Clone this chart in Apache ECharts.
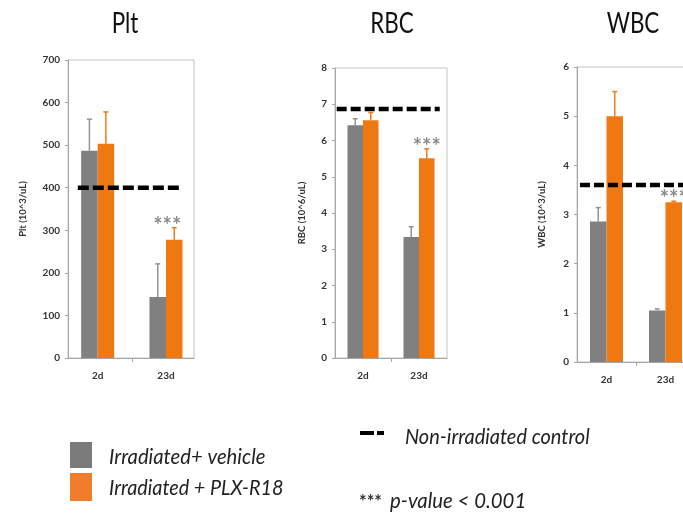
<!DOCTYPE html>
<html><head><meta charset="utf-8">
<script src="https://cdn.jsdelivr.net/npm/echarts@6/dist/echarts.min.js"></script>
<style>html,body{margin:0;padding:0;background:#fff}#c{width:683px;height:517px}</style>
</head><body><div id="c"></div>
<script>
// ---- data ----
const categories = ['2d', '23d'];
const panelTitles = ['Plt', 'RBC', 'WBC'];
const axisNames = ['Plt (10^3/uL)', 'RBC (10^6/uL)', 'WBC (10^3/uL)'];
const seriesNames = ['Irradiated+ vehicle', 'Irradiated + PLX-R18'];
const vehicleMeans = [[487, 143], [6.42, 3.34], [2.86, 1.05]];
const vehicleErr   = [[74, 78], [0.18, 0.28], [0.28, 0.03]];
const plxMeans     = [[503, 278], [6.56, 5.51], [5.0, 3.25]];
const plxErr       = [[75, 28], [0.21, 0.26], [0.5, 0.02]];
const controlValues = [400, 6.87, 3.6];
const significant = [[false, true], [false, true], [false, true]];
const yMax = [700, 8, 6];
const yStep = [100, 1, 1];
const legendControl = 'Non-irradiated control';
const legendStars = '***';
const legendP = 'p-value < 0.001';

// ---- layout / styles ----
const layout = [
  {left: 68,  top: 60, width: 126, height: 298, xMin: -0.434, xMax: 1.41, barW: 16.5, ctrl: [-0.29, 1.245], dash: [11, 4], titleX: 125, nameGap: 40, starDx: -7},
  {left: 335, top: 68, width: 112, height: 290, xMin: -0.5, xMax: 1.5, barW: 15.5, ctrl: [-0.47, 1.37], dash: [10, 4], titleX: 392, nameGap: 28, starDx: 0},
  {left: 577, top: 67, width: 118, height: 295, xMin: -0.5, xMax: 1.5, barW: 16.5, ctrl: [-0.45, 1.5], dash: [10, 4], titleX: 633, nameGap: 30, starDx: 0}
];
const GRAY = '#808080', ORANGE = '#f07810';
const AXIS = '#a6a6a6';
const FONT = 'Lato';

const grids = [], xAxes = [], yAxes = [], series = [], graphics = [];

layout.forEach((L, i) => {
  grids.push({left: L.left, top: L.top, width: L.width, height: L.height,
    show: true, borderColor: '#c4c4c4', borderWidth: 1, outerBoundsMode: 'none'});
  xAxes.push({gridIndex: i, type: 'value', min: L.xMin, max: L.xMax,
    axisLine: {show: true, onZero: false, lineStyle: {color: AXIS}},
    axisTick: {show: true, customValues: [0.5], length: 4, lineStyle: {color: AXIS}},
    axisLabel: {customValues: [0, 1], formatter: v => categories[Math.round(v)],
      margin: 13, fontFamily: FONT, fontWeight: 'bold', fontSize: 10, color: '#333'},
    splitLine: {show: false}});
  yAxes.push({gridIndex: i, type: 'value', min: 0, max: yMax[i], interval: yStep[i],
    name: axisNames[i], nameLocation: 'middle', nameGap: L.nameGap,
    nameTextStyle: {fontFamily: FONT, fontWeight: 'bold', fontSize: 9.5, color: '#333'},
    axisLine: {show: true, onZero: false, lineStyle: {color: AXIS}},
    axisTick: {show: true, length: 3, lineStyle: {color: AXIS}},
    axisLabel: {margin: 8, fontFamily: FONT, fontWeight: 'bold', fontSize: 10, color: '#333'},
    splitLine: {show: false}});

  const groups = [
    {name: seriesNames[0], means: vehicleMeans[i], errs: vehicleErr[i], color: GRAY, errColor: '#939393', sign: -1},
    {name: seriesNames[1], means: plxMeans[i], errs: plxErr[i], color: ORANGE, errColor: '#f07d1a', sign: 1}
  ];
  groups.forEach(g => {
    series.push({type: 'bar', name: g.name, xAxisIndex: i, yAxisIndex: i,
      barWidth: L.barW, barGap: '0%',
      itemStyle: {color: g.color},
      data: g.means.map((m, k) => [k, m]), silent: true});
  });
  groups.forEach(g => {
    series.push({type: 'custom', xAxisIndex: i, yAxisIndex: i, silent: true, z: 3,
      encode: {x: 0, y: 1},
      data: g.means.map((m, k) => [k, m, g.errs[k], (g.sign > 0 && significant[i][k]) ? 1 : 0]),
      renderItem: (params, api) => {
        const x = api.value(0), m = api.value(1), e = api.value(2), sig = api.value(3);
        const p0 = api.coord([x, m]);
        const p1 = api.coord([x, m + e]);
        const cx = p0[0] + g.sign * L.barW / 2;
        const ch = [
          {type: 'line', shape: {x1: cx, y1: p0[1], x2: cx, y2: p1[1]}, style: {stroke: g.errColor, lineWidth: 1.5}},
          {type: 'line', shape: {x1: cx - 2.5, y1: p1[1], x2: cx + 2.5, y2: p1[1]}, style: {stroke: g.errColor, lineWidth: 1.5}}
        ];
        if (sig) ch.push({type: 'text', x: cx + L.starDx, y: p1[1] + 9,
          style: {text: '***', fill: '#8a8a8a', font: 'bold 22px ' + FONT, align: 'center', verticalAlign: 'bottom'}});
        return {type: 'group', children: ch};
      }});
  });
  series.push({type: 'line', xAxisIndex: i, yAxisIndex: i, silent: true, z: 4,
    symbol: 'none', data: [[L.ctrl[0], controlValues[i]], [L.ctrl[1], controlValues[i]]],
    lineStyle: {color: '#000', width: 4.5, type: L.dash}});

  graphics.push({type: 'text', x: L.titleX, y: 24, scaleX: 0.8,
    style: {text: panelTitles[i], font: '28px ' + FONT, fill: '#111', align: 'center', verticalAlign: 'middle'}});
});

graphics.push(
  {type: 'rect', shape: {x: 70, y: 442, width: 22, height: 26}, style: {fill: '#7b7b7b'}},
  {type: 'rect', shape: {x: 70, y: 473, width: 22, height: 28}, style: {fill: '#ef7d2c'}},
  {type: 'text', x: 109, y: 457, scaleX: 0.92, style: {text: seriesNames[0], font: 'italic 22px ' + FONT, fill: '#222', verticalAlign: 'middle'}},
  {type: 'text', x: 109, y: 488, scaleX: 0.9, style: {text: seriesNames[1], font: 'italic 22px ' + FONT, fill: '#222', verticalAlign: 'middle'}},
  {type: 'line', shape: {x1: 360, y1: 433, x2: 384, y2: 433}, style: {stroke: '#000', lineWidth: 4, lineDash: [14, 3]}},
  {type: 'text', x: 405, y: 437, scaleX: 0.95, style: {text: legendControl, font: 'italic 21px ' + FONT, fill: '#222', verticalAlign: 'middle'}},
  {type: 'text', x: 359, y: 502, style: {text: legendStars, font: 'bold 18px ' + FONT, fill: '#333', verticalAlign: 'middle'}},
  {type: 'text', x: 390, y: 501, scaleX: 0.97, style: {text: legendP, font: 'italic 21px ' + FONT, fill: '#222', verticalAlign: 'middle'}}
);

const chart = echarts.init(document.getElementById('c'), null, {renderer: 'canvas'});
chart.setOption({
  animation: false,
  backgroundColor: '#fff',
  grid: grids, xAxis: xAxes, yAxis: yAxes, series: series, graphic: graphics
});
</script>
</body></html>
